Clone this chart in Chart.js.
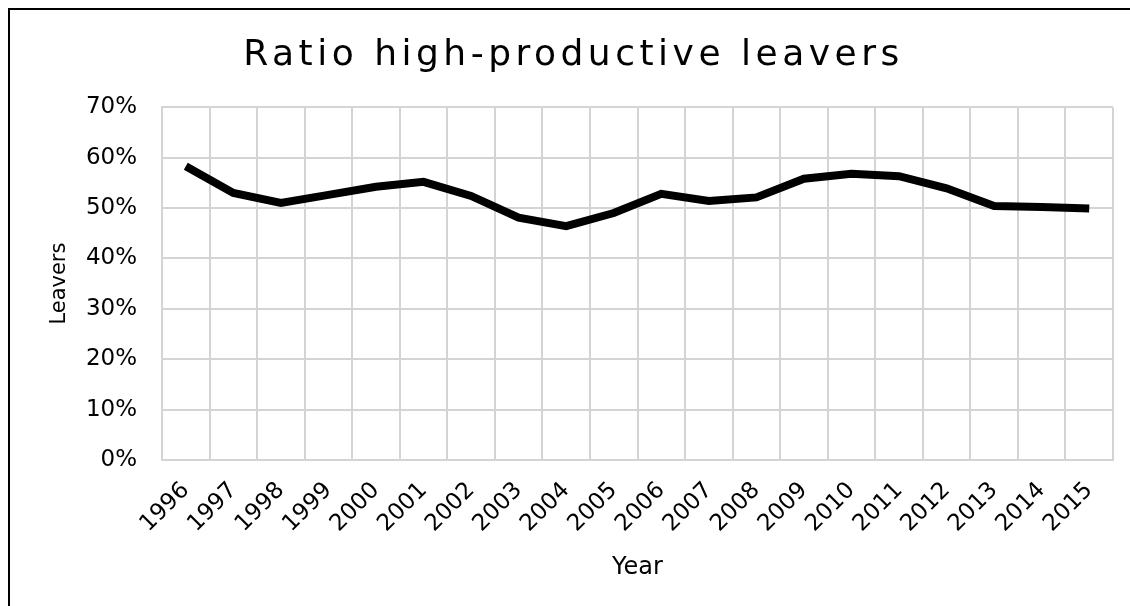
<!DOCTYPE html>
<html>
<head>
<meta charset="utf-8">
<script src="https://cdn.jsdelivr.net/npm/chart.js@4/dist/chart.umd.min.js"></script>
<style>
  html, body { margin: 0; padding: 0; background: #fff; overflow: hidden; }
  #wrap { position: relative; width: 1130px; height: 606px; }
  #frame {
    position: absolute; left: 8px; top: 8px;
    width: 1200px; height: 700px;
    border: 2px solid #000; box-sizing: border-box;
  }
  #leaversChart { position: absolute; left: 0; top: 0; }
</style>
</head>
<body>
<div id="wrap">
  <div id="frame"></div>
  <canvas id="leaversChart" width="1130" height="606"></canvas>
</div>
<script>
// Share of high-productive workers among leavers, by year
const years = ["1996", "1997", "1998", "1999", "2000", "2001", "2002", "2003", "2004", "2005",
               "2006", "2007", "2008", "2009", "2010", "2011", "2012", "2013", "2014", "2015"];
const ratioHigh = [58.3, 53.0, 51.0, 52.6, 54.2, 55.2, 52.4, 48.1, 46.4, 49.0,
                   52.8, 51.4, 52.1, 55.8, 56.8, 56.3, 53.9, 50.4, 50.2, 49.9];
const yTicks = [0, 10, 20, 30, 40, 50, 60, 70];

const gridGrey = "#d4d4d4";
Chart.defaults.color = "#000";
Chart.defaults.font.family = "'DejaVu Sans', Verdana, sans-serif";

// title gets wider letter spacing than the canvas default
const spacedTitle = {
  id: "spacedTitle",
  afterInit(chart) {
    const tb = chart.titleBlock;
    if (!tb) return;
    const baseDraw = tb.draw;
    tb.draw = function () {
      const c = this.ctx;
      c.save();
      c.letterSpacing = "4.5px";
      c.translate(12, 0);
      baseDraw.apply(this, arguments);
      c.restore();
    };
  }
};

const chart = new Chart(document.getElementById("leaversChart"), {
  type: "line",
  data: {
    labels: years,
    datasets: [{
      label: "Ratio high-productive leavers",
      data: ratioHigh,
      borderColor: "#000",
      backgroundColor: "#000",
      borderWidth: 8,
      borderCapStyle: "butt",
      borderJoinStyle: "miter",
      pointRadius: 0,
      tension: 0,
      fill: false
    }]
  },
  options: {
    responsive: false,
    animation: false,
    layout: { padding: { left: 10, right: 17, top: 10, bottom: 0 } },
    plugins: {
      legend: { display: false },
      tooltip: { enabled: false },
      title: {
        display: true,
        text: "Ratio high-productive leavers",
        font: { size: 36, weight: "normal" },
        padding: { top: 24, bottom: 30 }
      }
    },
    scales: {
      x: {
        offset: true,
        grid: { offset: true, color: gridGrey, lineWidth: 2, drawTicks: false },
        border: { color: gridGrey, width: 2 },
        ticks: { font: { size: 23 }, minRotation: 45, maxRotation: 45, padding: 17 },
        title: { display: true, text: "Year", font: { size: 24 }, padding: { top: 0, bottom: 24 } },
        afterFit(scale) { scale.height = 146; }
      },
      y: {
        min: 0,
        max: 70,
        afterBuildTicks(scale) { scale.ticks = yTicks.map(v => ({ value: v })); },
        grid: { color: gridGrey, lineWidth: 2, drawTicks: false },
        border: { color: gridGrey, width: 2 },
        ticks: { font: { size: 23 }, padding: 25, callback: v => v + "%" },
        title: { display: true, text: "Leavers", font: { size: 21 }, padding: { top: 37, bottom: 0 } },
        afterFit(scale) { scale.width = 152; }
      }
    }
  },
  plugins: [spacedTitle]
});
chart.draw();
</script>
</body>
</html>
